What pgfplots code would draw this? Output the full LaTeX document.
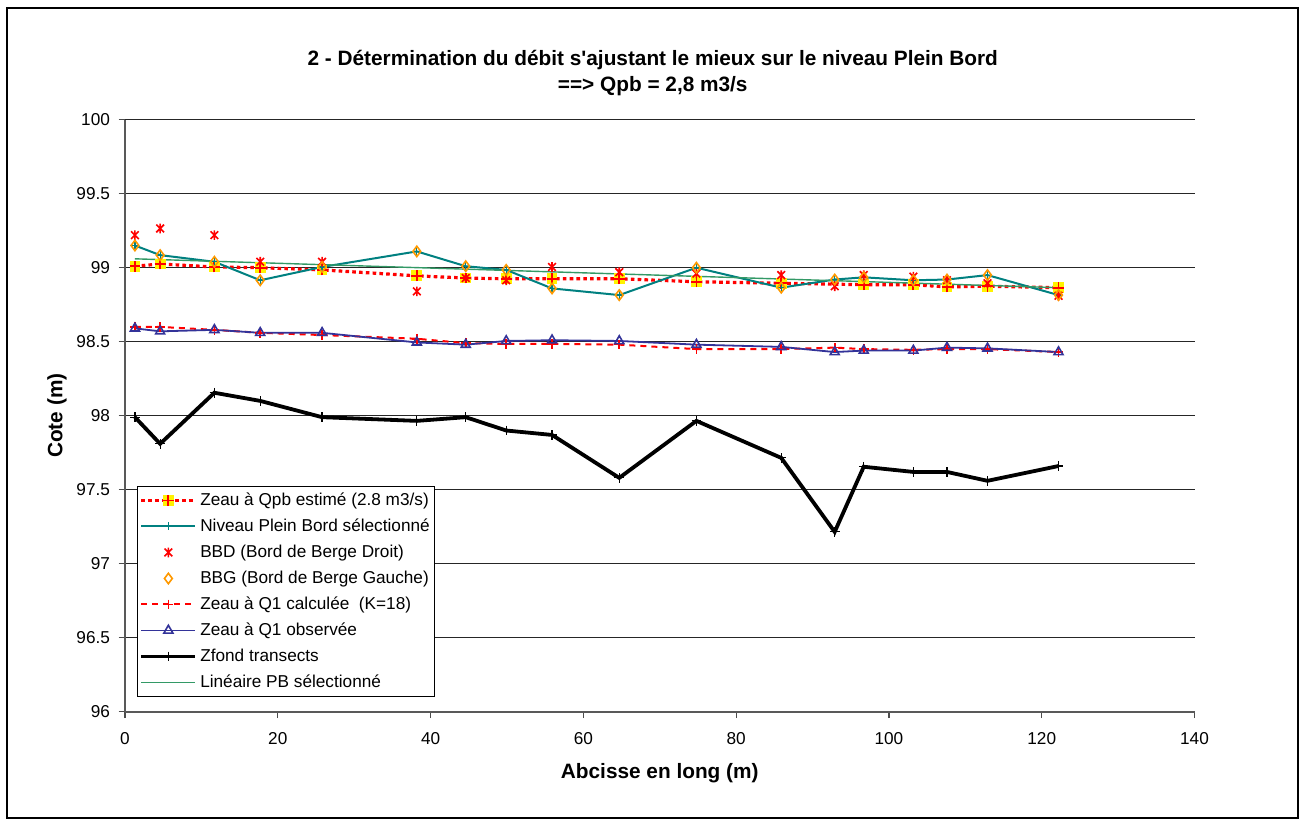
\documentclass[border=0pt]{standalone}
\usepackage{fontspec}
\setmainfont{Liberation Sans}
\usepackage{pgfplots}
\pgfplotsset{compat=1.18}
\usepackage{pgfplotstable}

\definecolor{teal0}{RGB}{0,128,128}
\definecolor{bbgc}{RGB}{255,153,0}
\definecolor{q1obs}{RGB}{51,51,153}
\definecolor{linpb}{RGB}{51,153,102}

\pgfdeclareplotmark{sqplus}{%
  \pgfsetfillcolor{yellow}%
  \pgfpathrectangle{\pgfqpoint{-\pgfplotmarksize}{-\pgfplotmarksize}}{\pgfqpoint{2\pgfplotmarksize}{2\pgfplotmarksize}}%
  \pgfusepathqfill
  \pgfsetstrokecolor{red}%
  \pgfpathmoveto{\pgfqpoint{-\pgfplotmarksize}{0pt}}\pgfpathlineto{\pgfqpoint{\pgfplotmarksize}{0pt}}%
  \pgfpathmoveto{\pgfqpoint{0pt}{-\pgfplotmarksize}}\pgfpathlineto{\pgfqpoint{0pt}{\pgfplotmarksize}}%
  \pgfusepathqstroke}
\pgfdeclareplotmark{xstar}{%
  \pgfpathmoveto{\pgfqpoint{0pt}{\pgfplotmarksize}}\pgfpathlineto{\pgfqpoint{0pt}{-\pgfplotmarksize}}%
  \pgfpathmoveto{\pgfqpoint{-.8\pgfplotmarksize}{.8\pgfplotmarksize}}\pgfpathlineto{\pgfqpoint{.8\pgfplotmarksize}{-.8\pgfplotmarksize}}%
  \pgfpathmoveto{\pgfqpoint{-.8\pgfplotmarksize}{-.8\pgfplotmarksize}}\pgfpathlineto{\pgfqpoint{.8\pgfplotmarksize}{.8\pgfplotmarksize}}%
  \pgfusepathqstroke}

\pgfplotstableread{
x     zf     qpb    bbg    bbd    q1c    q1o
1.3   97.99  99.01  99.15  99.22  98.60  98.59
4.6   97.81  99.025 99.085 99.265 98.60  98.57
11.7  98.155 99.005 99.04  99.22  98.58  98.58
17.7  98.10  99.00  98.915 99.04  98.56  98.56
25.8  97.99  98.985 99.005 99.04  98.545 98.56
38.2  97.965 98.945 99.11  98.84  98.52  98.495
44.6  97.99  98.93  99.01  98.93  98.49  98.48
49.9  97.90  98.925 98.985 98.915 98.485 98.505
55.9  97.87  98.925 98.86  99.005 98.485 98.51
64.7  97.58  98.925 98.815 98.97  98.48  98.505
74.8  97.965 98.905 99.00  98.96  98.45  98.48
85.9  97.715 98.895 98.865 98.95  98.45  98.465
92.9  97.215 nan    98.92  98.875 98.46  98.43
96.7  97.655 98.885 98.935 98.95  98.45  98.44
103.2 97.62  98.885 98.915 98.94  98.445 98.44
107.6 97.62  98.87  98.92  98.915 98.45  98.46
112.9 97.56  98.875 98.95  98.895 98.45  98.455
122.2 97.66  98.865 98.815 98.81  98.43  98.43
}\data

\begin{document}
\begin{tikzpicture}
\path[use as bounding box] (-62.5pt,-56.15pt) rectangle (590pt,355.85pt);
\begin{axis}[
  at={(0pt,0pt)}, anchor=south west,
  scale only axis, width=534.75pt, height=296pt,
  xmin=0, xmax=140, ymin=96, ymax=100,
  xtick={0,20,...,140}, ytick={96,96.5,...,100},
  axis x line*=bottom, axis y line*=left,
  axis line style={black!65, line width=0.8pt},
  ymajorgrids, grid style={black!85, line width=0.6pt},
  tick align=outside, major tick length=3.2pt,
  tick style={black!70, line width=0.6pt},
  /pgf/number format/assume math mode=true,
  tick label style={font=\fontsize{8.6}{10}\selectfont},
  xticklabel style={yshift=-3.5pt},
  yticklabel style={xshift=-0.8pt},
  title={2 - Détermination du débit s\textquotesingle ajustant le mieux sur le niveau Plein Bord\\==> Qpb = 2,8 m3/s},
  title style={align=center, font=\bfseries\fontsize{10.4}{13}\selectfont, at={(0.5,1)}, anchor=south, yshift=2.5pt, xshift=-3.5pt},
  xlabel={Abcisse en long (m)},
  xlabel style={at={(axis description cs:0.5,-0.103)}, anchor=center, font=\bfseries\fontsize{10.4}{12}\selectfont},
  ylabel={Cote (m)},
  ylabel style={at={(axis description cs:-0.0636,0.5)}, anchor=center, font=\bfseries\fontsize{10.4}{12}\selectfont},
  legend cell align=left,
  legend image code/.code={\draw[mark repeat=2,mark phase=2] plot coordinates {(0pt,0pt) (13.5pt,0pt) (27pt,0pt)};},
  legend style={at={(0.0112,0.3813)}, anchor=north west, draw=black, line width=0.5pt, fill=white,
    font=\fontsize{8.6}{10}\selectfont, inner xsep=1pt, inner ysep=0.5pt, row sep=0pt,
    nodes={inner xsep=1.5pt, inner ysep=2pt, text height=6.8pt, text depth=2.2pt}},
]
\addplot[red, line width=1.6pt, dash pattern=on 1.8pt off 1.6pt, mark=sqplus, mark size=2.7pt, mark options={solid, line width=0.9pt}] table[x=x,y=qpb]{\data};
\addlegendentry{Zeau à Qpb estimé (2.8 m3/s)}
\addplot[teal0, line width=1pt, mark=+, mark size=2pt, mark options={solid, line width=0.6pt}] table[x=x,y=bbg]{\data};
\addlegendentry{Niveau Plein Bord sélectionné}
\addplot[red, only marks, mark=xstar, mark size=2.4pt, mark options={line width=0.8pt}] table[x=x,y=bbd]{\data};
\addlegendentry{BBD (Bord de Berge Droit)}
\addplot[bbgc, only marks, mark=diamond, mark size=2.6pt, mark options={line width=0.8pt}] table[x=x,y=bbg]{\data};
\addlegendentry{BBG (Bord de Berge Gauche)}
\addplot[red, line width=1pt, dash pattern=on 3pt off 2.5pt, mark=+, mark size=2.4pt, mark options={solid, line width=0.8pt}] table[x=x,y=q1c]{\data};
\addlegendentry{Zeau à Q1 calculée \ (K=18)}
\addplot[q1obs, line width=0.9pt, mark=triangle, mark size=2.6pt, mark options={solid, line width=0.8pt}] table[x=x,y=q1o]{\data};
\addlegendentry{Zeau à Q1 observée}
\addplot[black, line width=1.9pt, mark=+, mark size=2.4pt, mark options={line width=0.6pt}] table[x=x,y=zf]{\data};
\addlegendentry{Zfond transects}
\addplot[linpb, line width=0.7pt] coordinates {(1.3,99.06) (122.2,98.865)};
\addlegendentry{Linéaire PB sélectionné}
\end{axis}
\draw[black, line width=0.7pt] (-59pt,-53.15pt) rectangle (586.5pt,351.85pt);
\end{tikzpicture}
\end{document}
